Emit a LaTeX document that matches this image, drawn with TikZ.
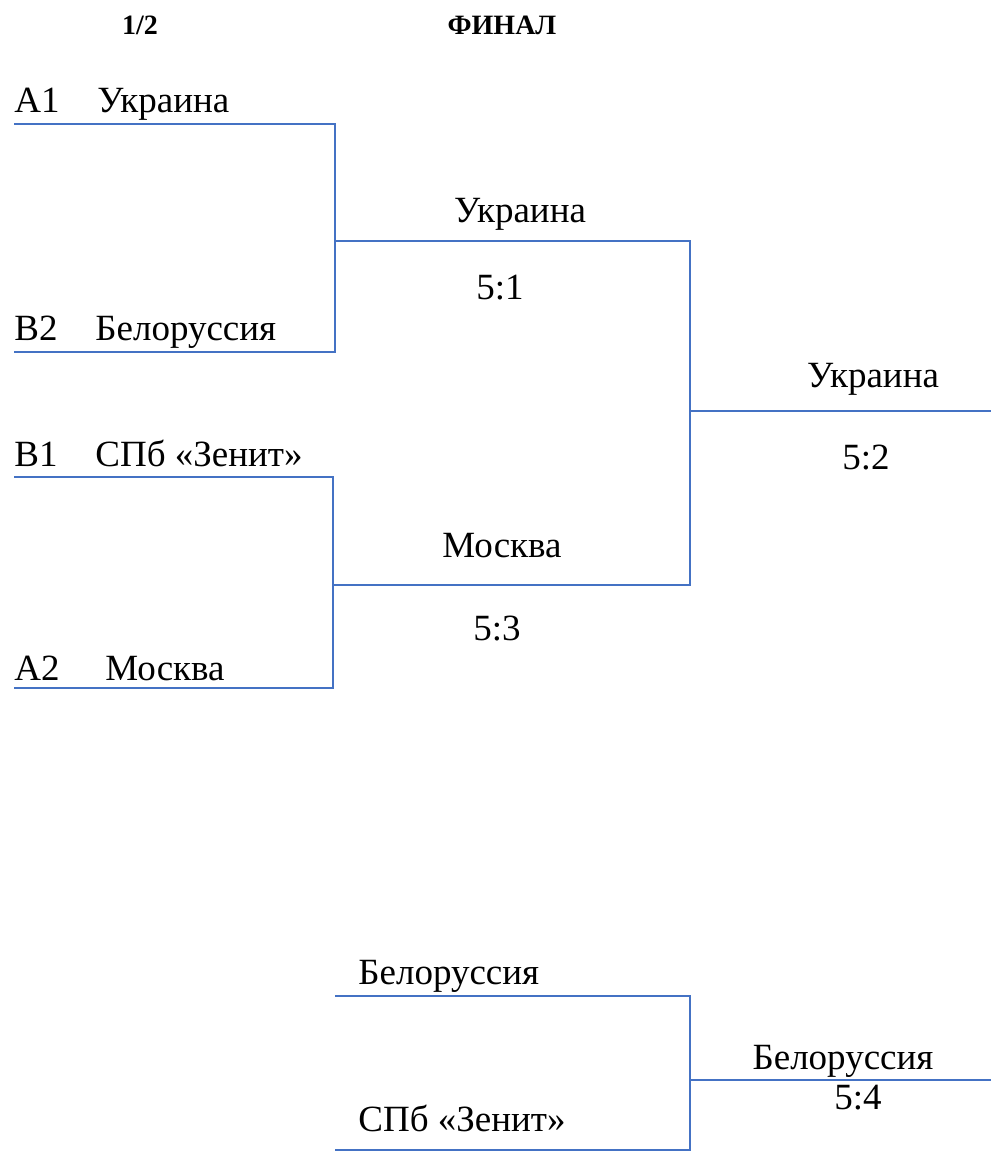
\documentclass[tikz,border=0pt]{standalone}
\usepackage{fontspec}
\setmainfont{Liberation Serif}
\usetikzlibrary{calc}
\definecolor{linecol}{HTML}{4472C4}
\tikzset{
  team/.style={inner sep=0pt, font=\fontsize{18.5}{22}\selectfont},
  head/.style={inner sep=0pt, font=\fontsize{14}{17}\selectfont\bfseries},
  bracket/.style={draw=linecol, line width=0.65pt},
}

\begin{document}
\begin{tikzpicture}[x=0.5pt,y=-0.5pt]
        \useasboundingbox (0,0) rectangle (991,1162);

        \node[head] (semi) at (140,25) {1/2};
        \node[head] (final) at (502,25) {ФИНАЛ};

        % top bracket
        \coordinate (a1l) at (14,124);   \coordinate (a1r) at (335,124);
        \coordinate (b2l) at (14,352);   \coordinate (b2r) at (335,352);
        \coordinate (s1l) at (335,241);  \coordinate (s1r) at (690,241);
        \coordinate (b1l) at (14,477);   \coordinate (b1r) at (333,477);
        \coordinate (a2l) at (14,688);   \coordinate (a2r) at (333,688);
        \coordinate (s2l) at (333,585);  \coordinate (s2r) at (690,585);
        \coordinate (fl) at (690,411);   \coordinate (fr) at (991,411);

        \draw[bracket] (a1l)--(a1r)--(s1l);
        \draw[bracket] (b2l)--(b2r)--(s1l)--(s1r)--(s2r)--(s2l);
        \draw[bracket] (b1l)--(b1r)--(a2r)--(a2l);
        \draw[bracket] (fl)--(fr);

        \node[team, anchor=base west] (a1) at (14,112) {A1};
        \node[team, anchor=base west] (a1n) at (97,112) {Украина};
        \node[team, anchor=base west] (b2) at (14,340) {B2};
        \node[team, anchor=base west] (b2n) at (95,340) {Белоруссия};
        \node[team, anchor=base west] (b1) at (14,466) {B1};
        \node[team, anchor=base west] (b1n) at (95,466) {СПб «Зенит»};
        \node[team, anchor=base west] (a2) at (14,680) {A2};
        \node[team, anchor=base west] (a2n) at (105,680) {Москва};

        \node[team, anchor=base] (w1) at (520,222) {Украина};
        \node[team, anchor=base] (w1s) at (500,299) {5:1};
        \node[team, anchor=base] (w2) at (502,557) {Москва};
        \node[team, anchor=base] (w2s) at (497,640) {5:3};
        \node[team, anchor=base] (fw) at (873,387) {Украина};
        \node[team, anchor=base] (fws) at (866,469) {5:2};

        % bottom bracket
        \coordinate (t1l) at (335,996);  \coordinate (t1r) at (690,996);
        \coordinate (t2l) at (335,1150); \coordinate (t2r) at (690,1150);
        \coordinate (tfl) at (690,1080); \coordinate (tfr) at (991,1080);

        \draw[bracket] (t1l)--(t1r)--(t2r)--(t2l);
        \draw[bracket] (tfl)--(tfr);

        \node[team, anchor=base west] (t1) at (358,984) {Белоруссия};
        \node[team, anchor=base west] (t2) at (358,1131) {СПб «Зенит»};
        \node[team, anchor=base] (tw) at (843,1069) {Белоруссия};
        \node[team, anchor=base] (tws) at (858,1109) {5:4};
    \end{tikzpicture}
\end{document}
